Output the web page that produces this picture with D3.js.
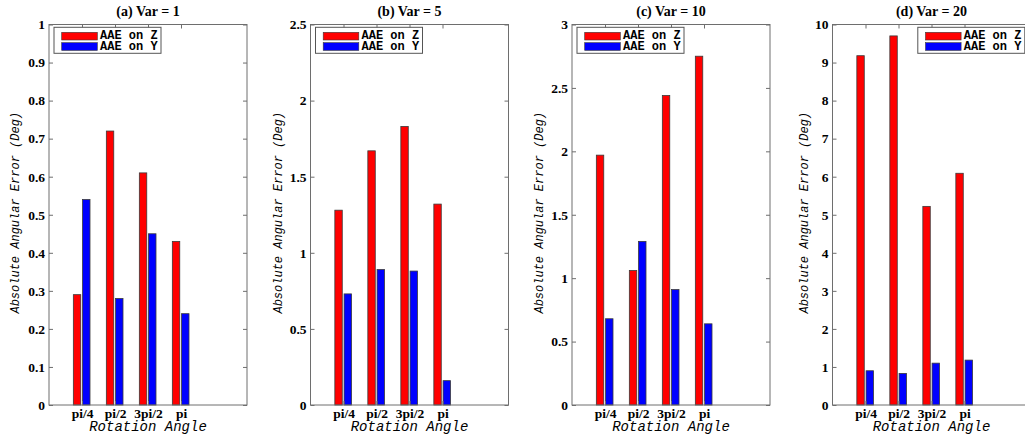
<!DOCTYPE html>
<html>
<head>
<meta charset="utf-8">
<script src="https://cdn.jsdelivr.net/npm/d3@7"></script>
<style>
  html, body { margin: 0; padding: 0; background: #fff; overflow: hidden; }
  svg { display: block; }
</style>
</head>
<body>
<svg id="chart" width="1025" height="437"></svg>
<script>
// ---------------- data ----------------
const categories = ["pi/4", "pi/2", "3pi/2", "pi"];
const seriesNames = ["AAE on Z", "AAE on Y"];
const titles = ["(a) Var = 1", "(b) Var = 5", "(c) Var = 10", "(d) Var = 20"];

const aaeZ_var1 = [0.29, 0.72, 0.61, 0.43];
const aaeY_var1 = [0.54, 0.28, 0.45, 0.24];
const aaeZ_var5 = [1.28, 1.67, 1.83, 1.32];
const aaeY_var5 = [0.73, 0.89, 0.88, 0.16];
const aaeZ_var10 = [1.97, 1.06, 2.44, 2.75];
const aaeY_var10 = [0.68, 1.29, 0.91, 0.64];
const aaeZ_var20 = [9.18, 9.70, 5.22, 6.09];
const aaeY_var20 = [0.90, 0.83, 1.10, 1.18];

const yTicks_var1 = [0, 0.1, 0.2, 0.3, 0.4, 0.5, 0.6, 0.7, 0.8, 0.9, 1];
const yTicks_var5 = [0, 0.5, 1, 1.5, 2, 2.5];
const yTicks_var10 = [0, 0.5, 1, 1.5, 2, 2.5, 3];
const yTicks_var20 = [0, 1, 2, 3, 4, 5, 6, 7, 8, 9, 10];

const xLabel = "Rotation Angle";
const yLabel = "Absolute Angular Error (Deg)";

// ---------------- font selection ----------------
function pickFont(cands, generic) {
  const c = document.createElement("canvas").getContext("2d");
  const s = "abcdefghijklmnopqrstuvwxyzWMil0123456789";
  c.font = `20px monospace`; const wm = c.measureText(s).width;
  c.font = `20px sans-serif`; const ws = c.measureText(s).width;
  for (const f of cands) {
    c.font = `20px "${f}", monospace`; const w1 = c.measureText(s).width;
    c.font = `20px "${f}", sans-serif`; const w2 = c.measureText(s).width;
    if (w1 === w2 && wm !== ws) return `"${f}", ${generic}`;
  }
  return generic;
}
const serif = pickFont(["Liberation Serif", "Times New Roman", "Tinos", "DejaVu Serif", "Noto Serif"], "serif");
const mono = pickFont(["Liberation Mono", "Courier New", "Cousine", "DejaVu Sans Mono"], "monospace");

// ---------------- layout ----------------
const panels = [
  { title: titles[0], z: aaeZ_var1, y: aaeY_var1, ticks: yTicks_var1, legend: "left", ylabOff: 34 },
  { title: titles[1], z: aaeZ_var5, y: aaeY_var5, ticks: yTicks_var5, legend: "left", ylabOff: 33 },
  { title: titles[2], z: aaeZ_var10, y: aaeY_var10, ticks: yTicks_var10, legend: "left", ylabOff: 33 },
  { title: titles[3], z: aaeZ_var20, y: aaeY_var20, ticks: yTicks_var20, legend: "right", ylabOff: 29 }
];
const lefts = [49, 310.5, 572, 832.5];
const plotW = 198, plotTop = 24.5, plotBottom = 405;
const axisColor = "#6e6e6e";
const colors = ["#ff0000", "#0000ff"];

const svg = d3.select("#chart");

panels.forEach((p, pi) => {
  const L = lefts[pi];
  const g = svg.append("g").attr("transform", `translate(${L},0)`);
  const x = d3.scaleLinear().domain([0, 6]).range([0, plotW]);
  const y = d3.scaleLinear().domain([0, p.ticks[p.ticks.length - 1]]).range([plotBottom, plotTop]);

  // bars
  const barW = 0.225;
  const offs = [-0.15, 0.13];
  [p.z, p.y].forEach((vals, si) => {
    g.selectAll(null).data(vals).enter().append("rect")
      .attr("x", (d, i) => x(i + 1 + offs[si] - barW / 2))
      .attr("width", x(barW) - x(0))
      .attr("y", d => y(d))
      .attr("height", d => y(0) - y(d))
      .attr("fill", colors[si])
      .attr("stroke", "#3a3a3a")
      .attr("stroke-width", 0.8);
  });

  // axes
  const fmt = d => String(d);
  const yl = g.append("g").call(d3.axisLeft(y).tickValues(p.ticks).tickFormat(fmt).tickSize(-4).tickPadding(4));
  const yr = g.append("g").attr("transform", `translate(${plotW},0)`)
    .call(d3.axisRight(y).tickValues(p.ticks).tickFormat("").tickSize(-4));
  const xb = g.append("g").attr("transform", `translate(0,${plotBottom})`)
    .call(d3.axisBottom(x).tickValues([1, 2, 3, 4]).tickFormat(i => categories[i - 1]).tickSize(-4).tickPadding(3.5));
  const xt = g.append("g").attr("transform", `translate(0,${plotTop})`)
    .call(d3.axisTop(x).tickValues([1, 2, 3, 4]).tickFormat("").tickSize(-4));
  [yl, yr, xb, xt].forEach(a => {
    a.select(".domain").remove();
    a.selectAll("line").attr("stroke", axisColor);
    a.selectAll("text").attr("fill", "#000").attr("font-family", serif)
      .attr("font-weight", "bold").attr("font-size", 13.5);
  });

  // box
  g.append("rect").attr("x", 0).attr("y", plotTop).attr("width", plotW).attr("height", plotBottom - plotTop)
    .attr("fill", "none").attr("stroke", axisColor).attr("stroke-width", 1);

  // title
  g.append("text").attr("x", plotW / 2).attr("y", 15.5).attr("text-anchor", "middle")
    .attr("font-family", serif).attr("font-weight", "bold").attr("font-size", 14).text(p.title);

  // x label
  g.append("text").attr("x", plotW / 2).attr("y", 431).attr("text-anchor", "middle")
    .attr("font-family", mono).attr("font-style", "italic").attr("font-size", 14).text(xLabel);

  // y label
  g.append("text").attr("transform", `translate(${-p.ylabOff},${(plotTop + plotBottom) / 2 - 2}) rotate(-90)`)
    .attr("text-anchor", "middle").attr("dy", "0.35em")
    .attr("font-family", mono).attr("font-style", "italic").attr("font-size", 12).text(yLabel);

  // legend
  const lw = 107, lh = 26;
  const lx = p.legend === "left" ? 5 : plotW - 5.7 - lw;
  const lg = g.append("g").attr("transform", `translate(${lx},27.3)`);
  lg.append("rect").attr("width", lw).attr("height", lh).attr("fill", "#fff")
    .attr("stroke", "#555").attr("stroke-width", 1);
  seriesNames.forEach((name, si) => {
    lg.append("rect").attr("x", 7.7).attr("y", 5 + si * 10.4).attr("width", 35.6).attr("height", 7.7)
      .attr("fill", colors[si]).attr("stroke", "#3a3a3a").attr("stroke-width", 0.6);
    lg.append("text").attr("x", 46).attr("y", 12 + si * 10.6)
      .attr("font-family", mono).attr("font-weight", "bold").attr("font-size", 12)
      .text(name);
  });
});
</script>
</body>
</html>
